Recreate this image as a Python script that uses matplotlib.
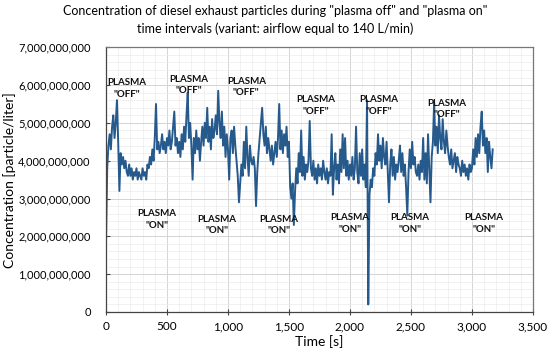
import matplotlib
matplotlib.use('Agg')
import matplotlib.pyplot as plt
import numpy as np
from matplotlib.ticker import FuncFormatter, MultipleLocator

# concentration, one value per 10 s (x 1e9 particle/liter)
step_s = 10
conc_e9 = [
  1.8, 3.8, 4.4, 4.7, 4.3,   4.9, 5.2, 4.6, 5.0, 5.6,
  4.5, 3.2, 4.2, 3.9, 4.1,   3.8, 4.0, 3.7, 3.6, 3.9,
  3.6, 3.8, 3.5, 3.7, 3.6,   3.8, 3.5, 3.7, 3.6, 3.5,
  3.8, 3.6, 3.7, 3.5, 3.9,   3.8, 4.1, 3.9, 4.3, 4.0,
  4.6, 5.5, 4.3, 4.5, 4.2,   4.4, 4.7, 4.3, 4.5, 4.2,
  4.6, 4.4, 4.8, 4.3, 4.5,   4.9, 5.3, 4.4, 4.6, 4.2,
  4.5, 4.1, 4.7, 4.3, 4.9,   4.5, 5.2, 5.8, 4.6, 5.0,
  4.4, 3.5, 4.6, 4.2, 4.8,   4.3, 4.6, 4.0, 4.5, 4.9,
  4.4, 5.0, 4.6, 5.4, 4.5,   4.9, 4.3, 5.1, 4.6, 4.8,
  5.2, 4.7, 5.85, 5.0, 4.6,  5.3, 4.4, 4.9, 4.1, 4.7,
  4.3, 3.5, 4.6, 4.8, 4.2,   4.9, 4.4, 4.0, 3.6, 2.9,
  3.4, 3.9, 3.6, 4.5, 3.8,   4.9, 4.1, 3.6, 4.4, 4.0,
  3.9, 4.1, 3.8, 2.8, 3.7,   4.2, 4.6, 5.0, 5.4, 4.7,
  4.4, 4.9, 4.2, 4.6, 4.3,   4.0, 4.4, 3.9, 4.2, 4.5,
  4.1, 4.6, 5.5, 4.3, 4.8,   4.2, 4.7, 4.4, 4.9, 4.1,
  4.5, 3.3, 3.0, 3.4, 2.3,   3.2, 3.8, 3.4, 4.2, 3.7,
  4.8, 3.6, 4.1, 3.5, 3.9,   3.7, 4.0, 5.05, 3.8, 3.6,
  4.0, 3.5, 3.8, 3.4, 3.9,   3.6, 3.8, 3.5, 4.0, 3.7,
  3.5, 3.8, 3.4, 3.7, 3.6,   4.7, 3.1, 3.8, 4.2, 3.5,
  3.9, 3.4, 4.3, 3.7, 4.7,   3.8, 4.6, 3.6, 4.0, 3.5,
  3.9, 3.6, 4.1, 3.5, 3.8,   4.9, 3.7, 3.4, 4.2, 3.6,
  4.3, 3.5, 3.9, 3.3, 5.6,   0.2, 3.1, 3.5, 3.3, 3.8,
  3.6, 4.2, 3.9, 4.7, 4.0,   4.4, 3.8, 4.6, 4.1, 3.9,
  4.5, 3.7, 2.9, 3.9, 4.3,   3.6, 4.1, 3.5, 3.9, 3.7,
  4.0, 4.4, 3.7, 4.2, 3.6,   3.9, 3.3, 2.55, 3.7, 4.3,
  3.8, 4.5, 3.9, 4.1, 3.7,   3.6, 3.9, 3.5, 4.0, 3.7,
  4.6, 3.5, 4.2, 3.4, 4.7,   3.8, 2.9, 4.1, 4.5, 5.55,
  4.4, 4.9, 4.2, 5.2, 4.6,   4.3, 5.1, 4.5, 4.2, 4.8,
  4.4, 4.1, 3.9, 4.3, 3.8,   4.0, 4.2, 3.7, 4.1, 3.9,
  3.8, 3.6, 4.0, 3.7, 3.9,   3.6, 3.8, 3.5, 3.9, 3.7,
  3.8, 4.3, 3.9, 4.6, 4.1,   4.7, 4.2, 4.9, 5.3, 4.4,
  4.8, 4.2, 4.6, 3.7, 4.5,   4.1, 3.8, 4.3,
]

# annotation labels: (time [s], concentration x 1e9)
off_t = [170, 680, 1150, 1720, 2240, 2790]
off_c = [5.92, 6.0, 5.95, 5.45, 5.45, 5.37]
on_t = [420, 910, 1420, 2000, 2490, 3100]
on_c = [2.45, 2.3, 2.3, 2.35, 2.35, 2.35]

title = 'Concentration of diesel exhaust particles during "plasma off" and "plasma on"\ntime intervals (variant: airflow equal to 140 L/min)'

plt.rcParams['font.family'] = ['Lato', 'DejaVu Sans']

t = np.arange(len(conc_e9)) * step_s
c = np.array(conc_e9) * 1e9

fig = plt.figure(figsize=(5.5, 3.58), dpi=100)
ax = fig.add_axes([0.1927, 0.1285, 0.7763, 0.7395])

ax.plot(t, c, color='#265a8c', linewidth=1.4)

for x, y in zip(off_t, off_c):
  ax.text(x, y*1e9, 'PLASMA\n"OFF"', ha='center', va='center', fontsize=7,
          fontweight='bold', linespacing=1.4, color='#111111')
for x, y in zip(on_t, on_c):
  ax.text(x, y*1e9, 'PLASMA\n"ON"', ha='center', va='center', fontsize=7,
          fontweight='bold', linespacing=1.4, color='#111111')

ax.set_xlim(0, 3500)
ax.set_ylim(0, 7e9)
ax.xaxis.set_major_locator(MultipleLocator(500))
ax.xaxis.set_minor_locator(MultipleLocator(100))
ax.yaxis.set_major_locator(MultipleLocator(1e9))
ax.yaxis.set_minor_locator(MultipleLocator(2e8))
fmt = FuncFormatter(lambda v, p: '{:,.0f}'.format(v))
ax.xaxis.set_major_formatter(fmt)
ax.yaxis.set_major_formatter(fmt)

ax.grid(which='major', color='#d4d4d4', linewidth=0.7)
ax.grid(which='minor', color='#ececec', linewidth=0.5)
ax.set_axisbelow(True)
ax.tick_params(which='minor', length=0)
ax.tick_params(axis='x', which='major', direction='inout', length=5, width=0.8,
               color='#444444', labelsize=8.5, pad=4)
ax.tick_params(axis='y', which='major', direction='in', length=3, width=0.8,
               color='#444444', labelsize=8, pad=11)
for s in ax.spines.values():
  s.set_color('#777777')
  s.set_linewidth(0.9)
ax.spines['bottom'].set_color('#444444')
ax.spines['left'].set_color('#444444')

ax.set_xlabel('Time [s]', fontsize=10, labelpad=2)
ax.set_ylabel('Concentration [particle/liter]', fontsize=10)
ax.yaxis.set_label_coords(-0.21, 0.5)
fig.text(0.5, 0.985, title, ha='center', va='top', fontsize=9, linespacing=1.5)

fig.savefig('out.png', dpi=100)
